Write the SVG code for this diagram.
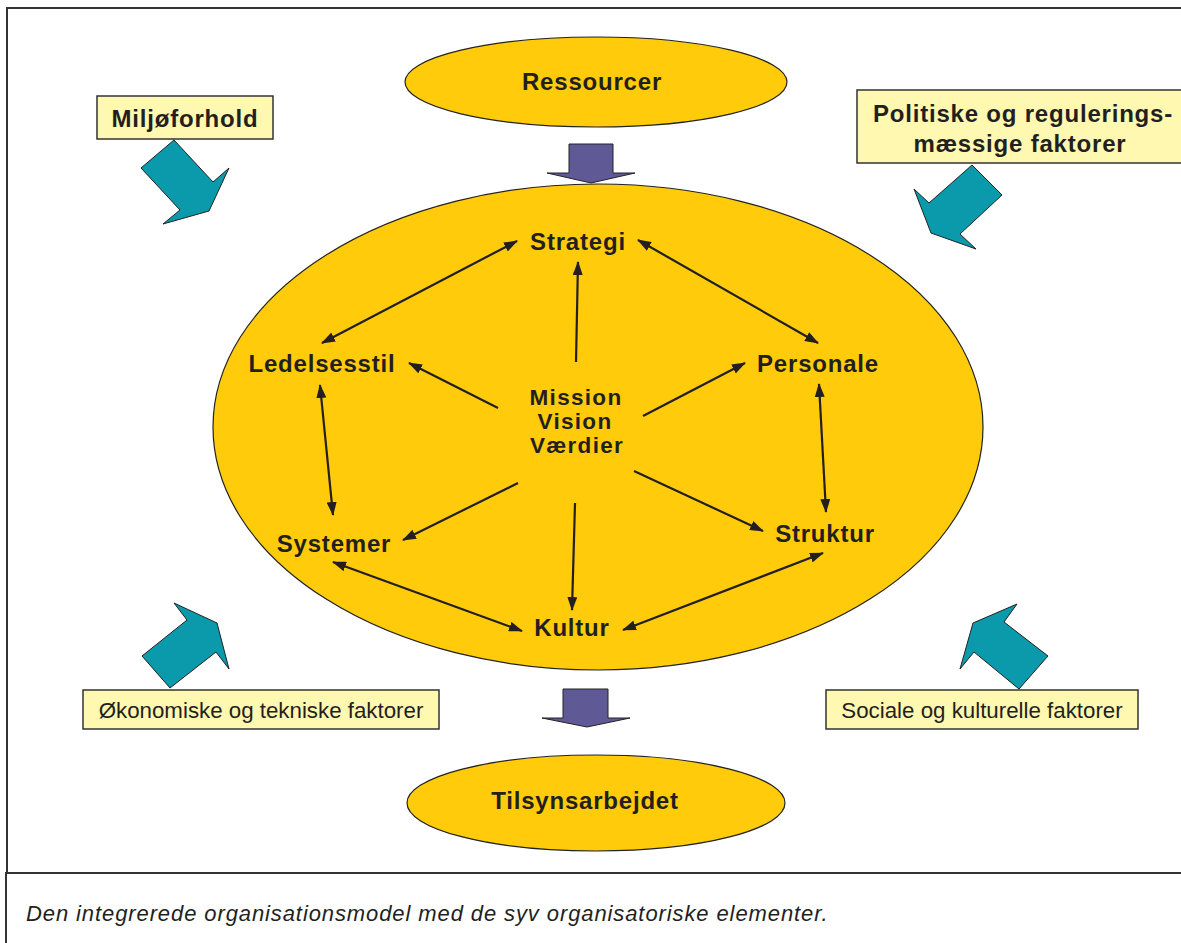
<svg xmlns="http://www.w3.org/2000/svg" width="1181" height="943" viewBox="0 0 1181 943">
  <defs>
    <style>
      .frame { fill: none; stroke: #333; stroke-width: 2; }
      .oval { fill: #FFCB0A; stroke: #222; stroke-width: 1.2; }
      .force { fill: #0A9AAB; stroke: #222; stroke-width: 1; stroke-linejoin: miter; }
      .flow { fill: #5F5A96; stroke: #222; stroke-width: 1; }
      .tag { fill: #FFF8B0; stroke: #333; stroke-width: 1.5; }
      .b { font-family: "Liberation Sans", Arial, sans-serif; font-weight: bold; font-size: 24px; letter-spacing: 0.8px; fill: #231F20; text-anchor: middle; }
      .core { font-size: 22.5px; letter-spacing: 1.3px; }
      .r { font-family: "Liberation Sans", Arial, sans-serif; font-size: 22.3px; fill: #231F20; text-anchor: middle; }
      .cap { font-family: "Liberation Sans", Arial, sans-serif; font-style: italic; font-size: 22px; letter-spacing: 0.9px; fill: #231F20; }
      .link { stroke: #231F20; stroke-width: 2.2; fill: none; }
    </style>
    <marker id="head" viewBox="0 0 14 10" refX="13" refY="5" markerWidth="14" markerHeight="10" markerUnits="userSpaceOnUse" orient="auto-start-reverse">
      <path d="M0,0 L14,5 L0,10 Z" fill="#231F20"/>
    </marker>
  </defs>

  <rect width="1181" height="943" fill="#fff"/>

  <!-- outer frame and caption panel -->
  <path class="frame" d="M1181,8 H7 V873"/>
  <path class="frame" d="M1181,873 H6 V943"/>

  <!-- inputs and outputs -->
  <g id="ressourcer">
    <ellipse class="oval" cx="596" cy="82" rx="191" ry="45"/>
    <text class="b" x="592" y="90">Ressourcer</text>
  </g>
  <g id="flow-in">
    <polygon class="flow" points="569,144 613,144 613,173 635,173 591,183 547,173 569,173"/>
  </g>

  <g id="organisation">
    <ellipse class="oval" cx="598" cy="427" rx="385" ry="243"/>
  </g>

  <g id="flow-out">
    <polygon class="flow" points="563,689 608,689 608,718 630,718 587,727 542,718 563,718"/>
  </g>
  <g id="tilsynsarbejdet">
    <ellipse class="oval" cx="596" cy="803" rx="189" ry="48"/>
    <text class="b" x="585" y="809">Tilsynsarbejdet</text>
  </g>

  <!-- external forces -->
  <g id="miljoforhold">
    <rect class="tag" x="97" y="96" width="176" height="43"/>
    <text class="b" x="185" y="127">Miljøforhold</text>
    <polygon class="force" points="174,140 213,182 229,168 209,211 163,224 180,210 141,168"/>
  </g>

  <g id="politiske">
    <rect class="tag" x="857" y="90" width="330" height="73"/>
    <text class="b" x="1023" y="122">Politiske og regulerings-</text>
    <text class="b" x="1020" y="152">mæssige faktorer</text>
    <polygon class="force" points="972,165 1002,195 960,234 976,249 931,233 914,189 929,203"/>
  </g>

  <g id="okonomiske">
    <polygon class="force" points="170,688 142,656 187,620 174,603 217,623 229,669 216,652"/>
    <rect class="tag" x="83" y="690" width="356" height="39"/>
    <text class="r" x="261" y="718">Økonomiske og tekniske faktorer</text>
  </g>

  <g id="sociale">
    <polygon class="force" points="1019,689 1048,656 1004,622 1017,604 973,623 960,669 974,652"/>
    <rect class="tag" x="826" y="690" width="312" height="39"/>
    <text class="r" x="982" y="718">Sociale og kulturelle faktorer</text>
  </g>

  <!-- the seven elements -->
  <g id="strategi"><text class="b" x="578" y="250">Strategi</text></g>
  <g id="ledelsesstil"><text class="b" x="322" y="372">Ledelsesstil</text></g>
  <g id="personale"><text class="b" x="818" y="372">Personale</text></g>
  <g id="mission">
    <text class="b core" x="576" y="405">Mission</text>
    <text class="b core" x="575" y="429">Vision</text>
    <text class="b core" x="577" y="453">Værdier</text>
  </g>
  <g id="systemer"><text class="b" x="334" y="552">Systemer</text></g>
  <g id="struktur"><text class="b" x="825" y="542">Struktur</text></g>
  <g id="kultur"><text class="b" x="572" y="636">Kultur</text></g>

  <!-- connectors -->
  <g id="connectors" class="link">
    <line x1="517" y1="241" x2="322" y2="343" marker-start="url(#head)" marker-end="url(#head)"/>
    <line x1="638" y1="240" x2="818" y2="343" marker-start="url(#head)" marker-end="url(#head)"/>
    <line x1="576" y1="362" x2="578" y2="262" marker-end="url(#head)"/>
    <line x1="498" y1="408" x2="409" y2="363" marker-end="url(#head)"/>
    <line x1="643" y1="416" x2="745" y2="363" marker-end="url(#head)"/>
    <line x1="819" y1="384" x2="826" y2="512" marker-start="url(#head)" marker-end="url(#head)"/>
    <line x1="320" y1="385" x2="333" y2="515" marker-start="url(#head)" marker-end="url(#head)"/>
    <line x1="518" y1="483" x2="403" y2="540" marker-end="url(#head)"/>
    <line x1="575" y1="503" x2="572" y2="610" marker-end="url(#head)"/>
    <line x1="634" y1="471" x2="763" y2="531" marker-end="url(#head)"/>
    <line x1="333" y1="562" x2="522" y2="631" marker-start="url(#head)" marker-end="url(#head)"/>
    <line x1="623" y1="630" x2="823" y2="553" marker-start="url(#head)" marker-end="url(#head)"/>
  </g>

  <text class="cap" x="26" y="921">Den integrerede organisationsmodel med de syv organisatoriske elementer.</text>
</svg>
